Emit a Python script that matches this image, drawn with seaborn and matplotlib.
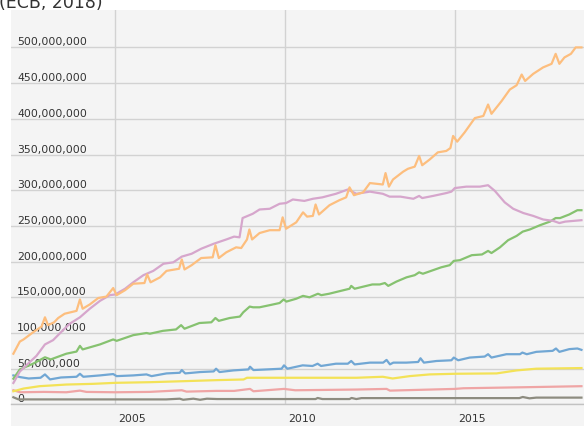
import numpy as np
import pandas as pd
import matplotlib
matplotlib.use('Agg')
import matplotlib.pyplot as plt
import matplotlib.transforms as mtrans
from matplotlib.patches import Rectangle
import seaborn as sns

# values in millions, x in decimal years
orange_t = [2002.0, 2002.19, 2002.3, 2002.58, 2002.83, 2002.93, 2003.02, 2003.2, 2003.32, 2003.51,
            2003.86, 2003.96, 2004.04, 2004.25, 2004.5, 2004.74, 2004.94, 2005.04, 2005.29, 2005.53,
            2005.86, 2005.94, 2006.04, 2006.32, 2006.51, 2006.88, 2006.96, 2007.04, 2007.25, 2007.53,
            2007.87, 2007.95, 2008.05, 2008.27, 2008.56, 2008.71, 2008.88, 2008.95, 2009.03, 2009.25,
            2009.55, 2009.84, 2009.93, 2010.03, 2010.33, 2010.53, 2010.65, 2010.82, 2010.9, 2011.0,
            2011.31, 2011.6, 2011.8, 2011.9, 2012.03, 2012.3, 2012.5, 2012.88, 2012.96, 2013.06,
            2013.18, 2013.48, 2013.62, 2013.82, 2013.95, 2014.04, 2014.26, 2014.5, 2014.75, 2014.87,
            2014.95, 2015.07, 2015.29, 2015.59, 2015.84, 2015.98, 2016.08, 2016.38, 2016.62, 2016.82,
            2016.97, 2017.07, 2017.31, 2017.6, 2017.85, 2017.97, 2018.08, 2018.23, 2018.42, 2018.56,
            2018.73]
orange_v = [71, 88, 91, 101, 109, 122, 111, 115, 121, 127,
            131, 147, 134, 140, 149, 151, 163, 153, 160, 169,
            170, 182, 171, 178, 187, 190, 203, 189, 195, 205,
            206, 223, 205, 213, 220, 219, 231, 245, 231, 240,
            244, 244, 262, 246, 255, 269, 263, 264, 280, 266,
            279, 286, 290, 304, 293, 297, 310, 308, 324, 305,
            315, 326, 330, 333, 348, 335, 343, 353, 355, 359,
            376, 368, 381, 401, 404, 420, 407, 425, 441, 447,
            462, 453, 463, 472, 477, 491, 477, 486, 491, 500,
            500]

pink_t = [2002.0, 2002.19, 2002.43, 2002.68, 2002.93, 2003.17, 2003.42, 2003.66, 2003.96, 2004.25,
          2004.55, 2004.84, 2005.0, 2005.29, 2005.53, 2005.83, 2006.12, 2006.42, 2006.71, 2006.96,
          2007.25, 2007.53, 2007.9, 2008.27, 2008.5, 2008.66, 2008.75, 2009.05, 2009.25, 2009.55,
          2009.84, 2010.03, 2010.23, 2010.57, 2010.82, 2011.1, 2011.5, 2011.85, 2012.1, 2012.5,
          2012.88, 2013.08, 2013.4, 2013.78, 2013.95, 2014.04, 2014.36, 2014.75, 2014.9, 2015.0,
          2015.34, 2015.74, 2015.98, 2016.18, 2016.47, 2016.72, 2017.02, 2017.31, 2017.6, 2017.9,
          2018.08, 2018.25, 2018.73]
pink_v = [30, 46, 57, 68, 84, 90, 102, 113, 122, 134,
          145, 153, 154, 162, 171, 181, 187, 197, 199, 207,
          211, 218, 225, 231, 235, 234, 261, 267, 273, 274,
          281, 282, 287, 285, 288, 290, 295, 301, 295, 298,
          295, 291, 291, 288, 292, 289, 292, 296, 298, 303,
          305, 305, 307, 299, 283, 274, 268, 264, 259, 257,
          254, 256, 258]

green_t = [2002.0, 2002.19, 2002.58, 2002.93, 2003.1, 2003.56, 2003.86, 2003.96, 2004.04, 2004.55,
           2004.94, 2005.04, 2005.53, 2005.92, 2006.02, 2006.4, 2006.79, 2006.94, 2007.04, 2007.48,
           2007.83, 2007.95, 2008.05, 2008.37, 2008.67, 2008.77, 2008.96, 2009.06, 2009.25, 2009.55,
           2009.84, 2009.96, 2010.04, 2010.33, 2010.53, 2010.72, 2010.97, 2011.07, 2011.3, 2011.47,
           2011.9, 2011.95, 2012.05, 2012.57, 2012.79, 2012.94, 2013.04, 2013.28, 2013.58, 2013.82,
           2013.95, 2014.06, 2014.36, 2014.6, 2014.85, 2014.97, 2015.15, 2015.5, 2015.8, 2015.98,
           2016.08, 2016.33, 2016.57, 2016.82, 2017.0, 2017.21, 2017.51, 2017.8, 2017.97, 2018.1,
           2018.37, 2018.61, 2018.73]
green_v = [36, 49, 57, 66, 63, 71, 74, 82, 77, 84,
           91, 89, 97, 100, 99, 103, 105, 111, 106, 114,
           115, 121, 117, 121, 123, 129, 137, 136, 136, 139,
           142, 147, 144, 148, 152, 150, 155, 153, 155, 157,
           162, 166, 162, 168, 168, 170, 166, 172, 178, 181,
           185, 183, 188, 192, 195, 201, 202, 209, 210, 215,
           212, 220, 230, 236, 242, 245, 251, 256, 261, 261,
           266, 272, 272]

blue_t = [2002.0, 2002.2, 2002.45, 2002.8, 2002.93, 2003.08, 2003.4, 2003.86, 2003.96, 2004.06,
          2004.55, 2004.94, 2005.04, 2005.53, 2005.92, 2006.07, 2006.51, 2006.9, 2006.96, 2007.06,
          2007.5, 2007.9, 2007.97, 2008.07, 2008.48, 2008.92, 2008.97, 2009.07, 2009.47, 2009.9,
          2009.97, 2010.07, 2010.52, 2010.81, 2010.96, 2011.06, 2011.5, 2011.85, 2011.95, 2012.05,
          2012.5, 2012.89, 2012.99, 2013.09, 2013.19, 2013.57, 2013.92, 2013.99, 2014.09, 2014.46,
          2014.9, 2014.97, 2015.1, 2015.44, 2015.88, 2015.98, 2016.08, 2016.52, 2016.92, 2016.99,
          2017.12, 2017.4, 2017.88, 2017.98, 2018.08, 2018.37, 2018.61, 2018.73]
blue_v = [40.6, 38.2, 36.3, 37.3, 42, 35, 37.7, 38.7, 42.9, 38.7,
          40.6, 42.5, 39.6, 40.6, 42, 39.6, 43.4, 44.3, 48.1, 43.4,
          45.3, 46.2, 50, 45.3, 47.6, 49, 52.8, 48.1, 49, 50,
          54.7, 50, 54.7, 53.8, 57, 53.8, 57, 57, 60.8, 56,
          58.5, 58.5, 62.3, 56.1, 58.5, 58.5, 59.4, 64.6, 58.5, 60.8,
          61.8, 65.6, 61.8, 65.6, 67, 70.3, 65.6, 70.3, 70.3, 72.6,
          70.3, 73.6, 75, 78.3, 73.6, 77.4, 78.3, 76.4]

yellow_t = [2002.0, 2002.3, 2002.77, 2003.56, 2004.35, 2005.0, 2006.02, 2007.0, 2008.0, 2008.78,
            2008.88, 2010.13, 2012.1, 2012.88, 2013.17, 2013.67, 2014.26, 2015.0, 2016.23, 2016.82,
            2017.4, 2018.73]
yellow_v = [18.4, 22.2, 25.5, 27.8, 28.8, 30.2, 31.1, 32.5, 34, 34.9,
            37.3, 37.3, 37.3, 38.7, 36.3, 39.6, 42, 42.9, 43.4, 47.6,
            50, 50.9]

red_t = [2002.0, 2002.2, 2002.9, 2003.56, 2003.96, 2004.15, 2005.0, 2006.0, 2006.96, 2007.1,
         2007.97, 2008.5, 2008.97, 2009.07, 2009.97, 2010.3, 2012.1, 2012.99, 2013.09, 2015.0,
         2015.25, 2017.0, 2018.73]
red_v = [19.8, 17, 17.5, 17, 19.3, 17.5, 17, 17.5, 19.8, 17.9,
         18.9, 18.9, 21.7, 18.4, 21.7, 19.8, 20.8, 21.7, 19.3, 21.7,
         22.6, 24, 25.5]

grey_t = [2002.0, 2002.15, 2006.5, 2006.9, 2007.0, 2007.3, 2007.5, 2007.7, 2008.0, 2010.9,
          2010.96, 2011.1, 2011.9, 2011.96, 2012.1, 2012.25, 2016.9, 2017.0, 2017.2, 2017.4,
          2018.73]
grey_v = [10, 7, 7, 8, 6.5, 8, 6.5, 8, 7.5, 7.5,
          9, 7.5, 7.5, 9, 7.5, 8.8, 8.8, 10.4, 8.5, 9.5,
          9.5]

names = ['orange', 'pink', 'green', 'blue', 'yellow', 'red', 'grey']
colors = ['#fdbe7e', '#d6a6cc', '#86c270', '#71a7d4', '#f3e257', '#efa5a5', '#8d8c80']
times = [orange_t, pink_t, green_t, blue_t, yellow_t, red_t, grey_t]
values = [orange_v, pink_v, green_v, blue_v, yellow_v, red_v, grey_v]

frames = []
for n, t, v in zip(names, times, values):
    frames.append(pd.DataFrame({'year': t, 'value': np.array(v) * 1e6, 'series': n}))
df = pd.concat(frames, ignore_index=True)

W, H = 584, 426
bg = '#f4f4f4'
fig = plt.figure(figsize=(W / 100, H / 100), dpi=100)
ax_left, ax_bottom, ax_top = 11, 404.4, 10
ax = fig.add_axes([ax_left / W, (H - ax_bottom) / H, 1 - ax_left / W, (ax_bottom - ax_top) / H])
ax.set_facecolor(bg)
# grey band under the plot area where the year labels sit
fig.add_artist(Rectangle((ax_left / W, 0), 1, (H - ax_bottom) / H, transform=fig.transFigure,
                         facecolor=bg, edgecolor='none', zorder=-1))

sns.lineplot(data=df, x='year', y='value', hue='series', hue_order=names[::-1],
             palette=dict(zip(names, colors)), estimator=None, linewidth=1.6,
             legend=False, ax=ax)

ax.set_xlim(2001.93, 2018.805)
ax.set_ylim(0, 552.4e6)
yt = np.arange(0, 500e6 + 1, 50e6)
ax.set_yticks(yt)
ax.set_yticklabels([f'{int(v):,}' for v in yt])
ax.set_xticks([2005, 2010, 2015])
ax.set_xticklabels(['2005', '2010', '2015'])
ax.set_xlabel('')
ax.set_ylabel('')

ax.grid(True, color='#d2d2d2', linewidth=1)
ax.set_axisbelow(True)
for s in ['top', 'right', 'left']:
    ax.spines[s].set_visible(False)
ax.spines['bottom'].set_color('#c2c2c2')
ax.spines['bottom'].set_linewidth(1)

ax.tick_params(axis='both', length=0, labelsize=7.8, labelcolor='#333333')
ax.tick_params(axis='y', pad=-4.3)
ax.tick_params(axis='x', pad=7)
for lbl in ax.get_yticklabels():
    lbl.set_horizontalalignment('left')
    lbl.set_verticalalignment('bottom')
shift = mtrans.ScaledTranslation(3 / 100, 0, fig.dpi_scale_trans)
for lbl in ax.get_xticklabels():
    lbl.set_horizontalalignment('left')
    lbl.set_transform(lbl.get_transform() + shift)

# source note, partly cut off by the top edge as in the original
fig.text(-0.002, 1 - 8 / H, '(ECB, 2018)', fontsize=12.5, va='baseline', ha='left', color='#333333')

fig.savefig('out.png', dpi=100, facecolor='white')
